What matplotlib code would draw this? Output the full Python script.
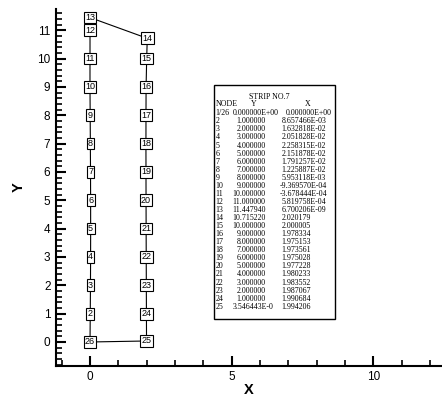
import matplotlib
matplotlib.use('Agg')
import matplotlib.pyplot as plt
from matplotlib.patches import Rectangle
from matplotlib.ticker import MultipleLocator

# Coordenadas dos nós (strip no. 7)
node_ids = [str(i) for i in range(1, 26)]
node_y = [0.0, 1.0, 2.0, 3.0, 4.0, 5.0, 6.0, 7.0, 8.0, 9.0, 10.0, 11.0, 11.44794,
          10.71522, 10.0, 9.0, 8.0, 7.0, 6.0, 5.0, 4.0, 3.0, 2.0, 1.0, 0.03546443]
node_x = [0.0, 8.657466e-03, 1.632818e-02, 2.051828e-02, 2.258315e-02, 2.151878e-02,
          1.791257e-02, 1.225887e-02, 5.953118e-03, -9.369570e-04, -3.678444e-04,
          5.819758e-04, 6.700206e-09, 2.020179, 2.000005, 1.978334, 1.975153,
          1.973561, 1.975028, 1.977228, 1.980233, 1.983552, 1.987067, 1.990684, 1.994206]

# Texto da tabela
tab_node = ['1/26'] + node_ids[1:]
tab_y = ['0.000000E+00', '1.000000', '2.000000', '3.000000', '4.000000', '5.000000',
         '6.000000', '7.000000', '8.000000', '9.000000', '10.000000', '11.000000',
         '11.447940', '10.715220', '10.000000', '9.000000', '8.000000', '7.000000',
         '6.000000', '5.000000', '4.000000', '3.000000', '2.000000', '1.000000',
         '3.546443E-0']
tab_x = ['0.000000E+00', '8.657466E-03', '1.632818E-02', '2.051828E-02', '2.258315E-02',
         '2.151878E-02', '1.791257E-02', '1.225887E-02', '5.953118E-03', '-9.369570E-04',
         '-3.678444E-04', '5.819758E-04', '6.700206E-09', '2.020179', '2.000005',
         '1.978334', '1.975153', '1.973561', '1.975028', '1.977228', '1.980233',
         '1.983552', '1.987067', '1.990684', '1.994206']

fig = plt.figure(figsize=(4.42, 3.98), dpi=100)
ax = fig.add_axes([0.1267, 0.0812, 0.8733, 0.8955])

# Linha fechada 1 -> 25 -> 26(=1)
ax.plot(node_x + [node_x[0]], node_y + [node_y[0]], color='black', lw=0.8, zorder=1)

labels = ['26'] + node_ids[1:]
for lab, x, y in zip(labels, node_x, node_y):
    ax.text(x, y, lab, fontsize=6.5, family='Liberation Sans', ha='center', va='center',
            bbox=dict(boxstyle='square,pad=0.15', fc='white', ec='black', lw=0.8), zorder=3)

ax.set_xlim(-1.2, 12.42)
ax.set_ylim(-0.836, 11.74)

ax.spines['top'].set_visible(False)
ax.spines['right'].set_visible(False)
ax.spines['left'].set_linewidth(1.5)
ax.spines['bottom'].set_linewidth(1.5)

ax.xaxis.set_major_locator(MultipleLocator(5))
ax.xaxis.set_minor_locator(MultipleLocator(1))
ax.yaxis.set_major_locator(MultipleLocator(1))
ax.yaxis.set_minor_locator(MultipleLocator(0.2))
ax.tick_params(which='major', direction='in', length=7.5, width=1.5, labelsize=8.5, pad=4)
ax.tick_params(which='minor', direction='in', length=4, width=1.2)
for t in ax.get_xticklabels() + ax.get_yticklabels():
    t.set_family('Liberation Sans')

ax.set_xlabel('X', fontsize=10.5, fontweight='bold', family='Liberation Sans', labelpad=0)
ax.set_ylabel('Y', fontsize=10.5, fontweight='bold', family='Liberation Sans', labelpad=8.5)

# Caixa da tabela
ax.add_patch(Rectangle((0.4093, 0.1310), 0.3135, 0.6566, transform=ax.transAxes,
                       fill=True, fc='white', ec='black', lw=1, zorder=4))
fs = 5.7
serif = 'Liberation Serif'
kw = dict(transform=ax.transAxes, fontsize=fs, family=serif, va='center', zorder=5)
ax.text(0.5518, 0.7548, 'STRIP NO.7', ha='center', **kw)
ax.text(0.4137, 0.7334, 'NODE', ha='left', **kw)
ax.text(0.5130, 0.7334, 'Y', ha='center', **kw)
ax.text(0.6520, 0.7334, 'X', ha='center', **kw)
for i in range(len(tab_node)):
    yy = 0.7082 - i * 0.02261
    sy = tab_y[i]
    xy = 0.4681 if ('E' not in sy and len(sy.split('.')[0]) == 1) else 0.4567
    sx = tab_x[i]
    xx = 0.5790 if sx.startswith('-') else 0.5847
    if i == 0:
        xx = 0.5950
    ax.text(0.4137, yy, tab_node[i], ha='left', **kw)
    ax.text(xy, yy, sy, ha='left', **kw)
    ax.text(xx, yy, sx, ha='left', **kw)

fig.savefig('out.png', dpi=100)
